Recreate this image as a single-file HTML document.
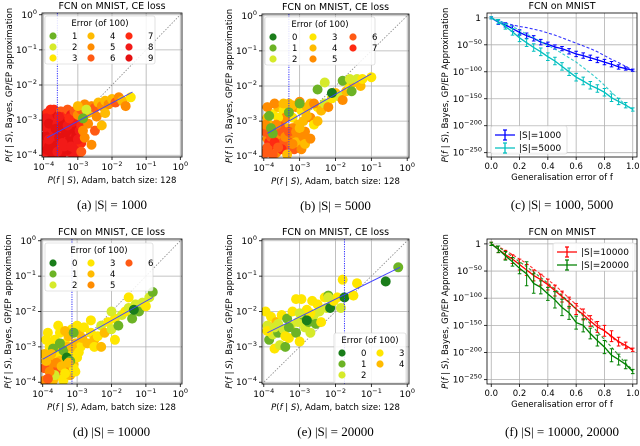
<!DOCTYPE html>
<html><head><meta charset="utf-8"><style>
html,body{margin:0;padding:0;background:#fff;}
svg{display:block;font-family:"DejaVu Sans","Liberation Sans",sans-serif;}
.cap{font-family:"Liberation Serif","DejaVu Serif",serif;font-size:13px;}
</style></head><body>
<svg id="fig" width="640" height="446" viewBox="0 0 640 446" xmlns="http://www.w3.org/2000/svg"></svg>
<script>
// ---------- data ----------
const errColors = ['#1a7d1a','#6cb325','#d6ea2a','#ffe600','#ffbb00','#ff8c00','#ff5a14','#ff2a12','#f21a18','#e51010'];
const decadeTicks = [-4,-3,-2,-1,0];
// scatter points: [log10 Adam, log10 Bayes, error]
const ptsA = [[-3.95,-3.9,8],[-3.9,-3.6,9],[-3.85,-3.3,7],[-3.9,-3.05,9],[-3.8,-3.95,8],[-3.75,-3.5,7],[-3.7,-3.15,9],[-3.65,-3.8,8],[-3.6,-3.4,9],[-3.55,-3.0,7],[-3.5,-3.6,8],[-3.45,-3.95,9],[-3.4,-3.25,8],[-3.35,-3.7,7],[-3.3,-3.45,9],[-3.25,-3.9,8],[-3.2,-3.1,7],[-3.15,-3.55,6],[-3.1,-3.3,8],[-3.05,-3.8,7],[-3.0,-3.15,6],[-2.95,-3.5,7],[-3.95,-3.45,9],[-3.9,-2.8,7],[-3.8,-2.9,8],[-3.7,-2.7,7],[-3.6,-2.85,9],[-3.5,-2.75,6],[-3.4,-2.9,7],[-3.3,-2.7,6],[-3.2,-2.85,8],[-3.7,-3.95,9],[-3.55,-3.75,8],[-3.45,-3.4,7],[-3.35,-3.05,9],[-3.8,-3.2,8],[-3.65,-3.55,9],[-3.25,-3.25,7],[-3.15,-3.95,8],[-3.05,-3.6,6],[-3.95,-3.7,8],[-3.85,-3.75,9],[-3.75,-3.25,8],[-3.6,-3.65,7],[-3.5,-3.2,9],[-3.4,-3.55,8],[-3.3,-3.85,9],[-3.2,-3.4,8],[-3.1,-3.1,7],[-3.95,-3.2,8],
[-3.95,-2.95,8],[-3.85,-3.1,9],[-3.75,-3.7,9],[-3.7,-3.45,8],[-3.6,-3.1,8],[-3.5,-3.9,9],[-3.45,-3.15,9],[-3.4,-3.75,8],[-3.35,-3.35,9],[-3.25,-3.6,9],[-3.2,-3.75,8],[-3.15,-3.25,9],[-3.1,-3.8,8],[-3.05,-3.45,9],[-3.0,-3.95,8],[-2.95,-3.3,8],[-2.9,-3.65,7],[-3.85,-3.55,8],[-3.75,-3.95,9],[-3.65,-3.25,9],[-3.55,-3.5,9],[-3.45,-3.65,8],[-3.3,-3.15,8],[-3.15,-3.05,8],[-3.0,-3.55,8],[-3.9,-3.85,9],[-3.8,-2.7,7],[-3.55,-2.9,8],[-3.25,-2.95,7],[-3.1,-2.75,6],[-2.9,-3.15,7],[-3.6,-3.9,8],
[-3.0,-2.85,5],[-2.9,-2.7,6],[-2.8,-2.55,5],[-2.7,-2.8,4],[-2.6,-2.6,5],[-2.5,-2.65,6],[-2.4,-2.5,4],[-2.3,-2.6,5],[-2.2,-2.45,4],[-2.1,-2.55,5],[-2.0,-2.4,4],[-1.9,-2.5,6],[-1.8,-2.35,5],[-1.7,-2.45,4],[-1.6,-2.6,5],[-1.45,-2.35,3],[-2.7,-3.1,5],[-2.5,-3.3,6],[-2.3,-3.15,4],[-2.8,-3.5,5],[-2.6,-3.7,5],[-2.9,-3.9,6],[-2.45,-2.9,5],[-2.2,-2.8,4],[-2.85,-3.3,5],[-3.0,-2.6,4],[-2.75,-2.7,2],[-2.85,-2.95,1]];
const ptsB = [[-3.95,-3.9,6],[-3.9,-3.5,5],[-3.85,-3.1,4],[-3.8,-3.7,7],[-3.75,-2.8,3],[-3.7,-3.3,6],[-3.65,-3.9,5],[-3.6,-2.6,4],[-3.55,-3.5,6],[-3.5,-3.0,5],[-3.45,-2.7,3],[-3.4,-3.7,6],[-3.35,-3.2,4],[-3.3,-2.5,4],[-3.25,-3.4,5],[-3.2,-2.9,3],[-3.15,-3.8,6],[-3.1,-2.6,5],[-3.05,-3.1,4],[-3.0,-3.5,5],[-2.95,-2.7,3],[-2.9,-3.0,4],[-2.85,-3.3,5],[-2.8,-2.6,4],[-2.7,-2.9,5],[-2.6,-3.1,3],[-3.9,-2.9,4],[-3.8,-3.3,6],[-3.7,-2.5,5],[-3.6,-3.1,6],[-3.5,-3.8,7],[-3.4,-2.9,5],[-3.3,-3.6,6],[-3.2,-3.2,5],[-3.95,-3.3,6],[-3.85,-3.6,7],[-3.75,-3.95,6],[-3.65,-3.4,5],[-3.45,-3.3,6],[-3.35,-3.95,4],[-3.1,-3.6,4],[-2.95,-3.8,5],[-3.6,-2.9,3],[-3.2,-2.55,4],[-3.9,-2.6,5],[-3.55,-3.15,6],
[-3.9,-3.75,6],[-3.8,-3.45,6],[-3.7,-3.6,7],[-3.6,-3.75,6],[-3.5,-3.3,6],[-3.4,-3.45,5],[-3.3,-3.3,6],[-3.2,-3.65,5],[-3.1,-3.3,5],[-3.0,-3.2,4],[-2.9,-3.45,5],[-2.8,-2.85,4],[-3.95,-3.1,5],[-3.65,-3.1,5],[-3.45,-2.5,4],[-3.0,-2.45,5],[-2.7,-2.5,4],[-2.85,-3.65,4],
[-3.8,-3.2,1],[-3.75,-3.35,1],[-3.3,-2.75,1],[-3.0,-2.5,1],[-3.85,-2.85,1],[-2.5,-2.6,3],[-2.4,-2.7,4],[-2.3,-2.5,2],[-2.2,-2.6,5],[-2.1,-2.35,3],[-2.0,-2.2,4],[-1.9,-2.3,2],[-1.8,-2.4,5],[-1.7,-2.15,4],[-1.6,-2.0,3],[-1.5,-1.9,4],[-1.4,-1.8,2],[-2.5,-2.1,1],[-2.1,-2.2,0],[-1.8,-1.85,1],[-1.6,-1.8,2],[-1.3,-2.0,4],[-1.25,-1.8,3],[-1.0,-1.75,3],[-2.3,-1.9,2],[-1.55,-2.15,1],[-2.6,-2.5,5],[-2.7,-3.5,5],[-2.5,-3.0,4]];
const ptsD = [[-3.95,-3.95,5],[-3.9,-3.6,6],[-3.85,-3.3,4],[-3.8,-3.0,3],[-3.75,-3.8,3],[-3.7,-3.4,4],[-3.65,-2.8,3],[-3.6,-3.6,6],[-3.55,-3.1,4],[-3.5,-2.6,3],[-3.45,-3.85,3],[-3.4,-3.3,4],[-3.35,-2.9,3],[-3.3,-3.6,5],[-3.25,-2.7,4],[-3.2,-3.2,3],[-3.15,-2.5,3],[-3.1,-3.5,4],[-3.05,-2.9,4],[-3.0,-3.3,3],[-2.95,-2.6,4],[-2.9,-3.0,3],[-2.85,-2.75,4],[-2.8,-2.45,3],[-2.7,-2.9,4],[-2.6,-2.6,3],[-2.5,-2.8,4],[-3.9,-2.8,3],[-3.8,-3.5,5],[-3.7,-3.95,4],[-3.6,-3.2,3],[-3.5,-3.4,4],[-3.4,-3.95,3],[-3.3,-3.0,4],[-3.2,-3.8,4],[-3.1,-3.6,3],[-3.95,-3.2,4],[-3.85,-2.6,3],[-3.55,-2.4,3],[-3.35,-2.55,4],[-3.0,-2.4,3],[-3.95,-3.6,6],[-3.6,-3.7,6],[-3.7,-3.05,1],[-3.5,-2.9,1],[-3.4,-3.1,1],[-3.3,-3.3,0],[-3.2,-3.4,1],[-3.1,-2.6,1],[-3.65,-3.8,2],[-3.05,-3.7,3],
[-3.9,-3.4,4],[-3.8,-3.7,5],[-3.75,-3.2,4],[-3.6,-3.45,5],[-3.45,-3.55,4],[-3.35,-3.75,3],[-3.25,-3.45,4],[-3.15,-3.0,4],[-2.95,-3.15,3],[-3.85,-3.9,6],
[-2.4,-2.7,3],[-2.3,-2.4,2],[-2.2,-2.6,4],[-2.1,-2.3,3],[-2.0,-2.5,2],[-1.9,-2.2,3],[-1.8,-2.4,1],[-1.7,-2.1,2],[-1.6,-2.0,3],[-1.5,-1.9,2],[-1.4,-2.2,1],[-1.3,-1.8,2],[-1.2,-2.0,1],[-1.1,-1.75,2],[-1.0,-1.85,3],[-0.9,-1.6,2],[-0.8,-1.45,1],[-1.35,-1.95,0],[-1.5,-1.6,3],[-2.0,-2.0,2],[-2.6,-2.25,3],[-2.5,-3.0,3],[-2.3,-3.0,4],[-1.9,-2.8,3]];
const ptsE = [[-3.95,-2.0,3],[-3.9,-2.4,2],[-3.85,-2.8,1],[-3.8,-2.15,3],[-3.75,-2.65,2],[-3.7,-3.05,3],[-3.65,-2.3,4],[-3.6,-2.6,1],[-3.55,-2.95,2],[-3.5,-2.1,3],[-3.45,-2.5,2],[-3.4,-3.0,1],[-3.35,-2.2,1],[-3.3,-2.75,3],[-3.25,-2.4,2],[-3.2,-2.0,3],[-3.1,-2.6,1],[-3.05,-2.3,2],[-3.0,-2.85,3],[-2.95,-1.65,3],[-2.9,-2.1,1],[-2.85,-2.45,2],[-2.8,-1.95,3],[-2.75,-2.3,1],[-2.7,-2.6,2],[-2.65,-1.7,3],[-2.6,-2.1,2],[-2.55,-2.35,1],[-2.5,-1.8,3],[-2.45,-2.0,2],[-2.4,-2.3,3],[-2.3,-1.6,3],[-2.25,-1.9,2],[-2.2,-1.55,1],[-2.15,-1.9,0],[-2.05,-1.7,3],[-1.95,-1.6,3],[-1.85,-1.9,2],[-3.9,-2.55,3],[-3.7,-2.45,2],[-3.3,-2.45,1],[-3.0,-2.05,2],[-2.7,-2.05,3],[-3.4,-2.7,3],[-3.6,-2.35,2],[-3.1,-1.65,3],[-2.8,-2.25,0],
[-1.8,-1.1,3],[-1.75,-1.6,0],[-1.4,-1.2,3],[-1.5,-1.55,3],[-0.6,-1.15,0],[-0.25,-0.75,1],[-2.2,-1.6,2]];
// line charts: error grid and log10 probabilities
const errGrid = [0,0.05,0.1,0.15,0.2,0.25,0.3,0.35,0.4,0.45,0.5,0.55,0.6,0.65,0.7,0.75,0.8,0.85,0.9,0.95,1.0];
const s1000 = [0,-8,-13,-20,-27,-33,-38,-45,-49,-54,-57,-62,-67,-70,-74,-78,-82,-86,-91,-94,-97];
const s1000Err = [2,4,4,5,5,5,5,5,4,4,4,5,5,5,5,5,5,5,4,3,2];
const s1000Dash = [0,-5,-10,-13,-16,-18,-21,-24,-28,-32,-37,-42,-47,-52,-57,-63,-70,-77,-83,-90,-97];
const s5000 = [0,-7,-16,-26,-37,-46,-55,-63,-72,-80,-90,-100,-110,-117,-125,-131,-138,-148,-155,-162,-170];
const s5000Err = [2,4,5,6,7,7,7,7,7,7,7,7,7,7,7,7,7,7,6,5,3];
const s5000Dash = [0,-5,-10,-16,-23,-30,-37,-44,-51,-58,-66,-74,-82,-92,-102,-113,-125,-138,-150,-161,-170];
const s10000 = [0,-10,-20,-28,-38,-48,-58,-66,-75,-86,-97,-108,-120,-130,-142,-153,-160,-170,-180,-187,-195];
const s10000Err = [3,6,8,8,10,10,10,10,10,10,10,10,10,10,10,10,10,10,8,6,3];
const s10000Dash = [0,-5,-12,-20,-28,-36,-46,-56,-66,-76,-88,-100,-112,-124,-136,-148,-160,-172,-182,-190,-195];
const s20000 = [0,-10,-22,-33,-45,-55,-73,-80,-92,-103,-117,-127,-145,-150,-165,-178,-190,-205,-213,-222,-235];
const s20000Err = [3,6,8,8,10,22,18,12,12,15,15,12,12,12,10,10,12,12,10,8,4];
const s20000Dash = [0,-6,-14,-24,-33,-42,-52,-62,-72,-83,-95,-107,-120,-133,-147,-162,-176,-190,-205,-220,-232];
const lineYTicks = [0,-50,-100,-150,-200,-250];
const lineXTicks = [0,0.2,0.4,0.6,0.8,1.0];

// ---------- helpers ----------
const NS='http://www.w3.org/2000/svg';
const svg=document.getElementById('fig');
function el(tag,attrs,parent){const e=document.createElementNS(NS,tag);for(const k in attrs)e.setAttribute(k,attrs[k]);(parent||svg).appendChild(e);return e;}
function txt(x,y,s,size,anchor,parent,extra){const t=el('text',Object.assign({x:x,y:y,'font-size':size,'text-anchor':anchor||'middle',fill:'#000'},extra||{}),parent);t.textContent=s;return t;}
function powLabel(x,y,base,exp,g,anchor){const t=el('text',{x:x,y:y,'font-size':9,'text-anchor':anchor||'middle',fill:'#000'},g);
  const a=el('tspan',{},t);a.textContent=base;
  if(exp!==null){const b=el('tspan',{dy:-4,'font-size':6.5},t);b.textContent=exp;}
  return t;}

function frame(g,L,T,R,B){el('rect',{x:L,y:T,width:R-L,height:B-T,fill:'none',stroke:'#000','stroke-width':0.8},g);}

function scatterPanel(id,L,T,R,B,pts,fit,vline,legendItems,legendPos,caption){
  const g=el('g',{});
  
  
  const xmin=-4.05,xmax=0.05,ymin=-4.05,ymax=0.05;
  const sx=v=>L+(v-xmin)/(xmax-xmin)*(R-L);
  const sy=v=>B-(v-ymin)/(ymax-ymin)*(B-T);
  const clip=el('clipPath',{id:'clip-'+id},g);el('rect',{x:L,y:T,width:R-L,height:B-T},clip);
  decadeTicks.forEach(d=>{
    const gl=el('line',{x1:sx(d),x2:sx(d),y1:T,y2:B,stroke:'#b0b0b0','stroke-width':0.8},g);
    
    const gl2=el('line',{x1:L,x2:R,y1:sy(d),y2:sy(d),stroke:'#b0b0b0','stroke-width':0.8},g);
    
    el('line',{x1:sx(d),x2:sx(d),y1:B,y2:B+3,stroke:'#000','stroke-width':0.8},g);
    el('line',{x1:L-3,x2:L,y1:sy(d),y2:sy(d),stroke:'#000','stroke-width':0.8},g);
    const xl=powLabel(sx(d),B+13,'10',String(d).replace('-','\u2212'),g,'middle');
    
    const yl=powLabel(L-5,sy(d)+3,'10',String(d).replace('-','\u2212'),g,'end');
    
  });
  const pg=el('g',{'clip-path':'url(#clip-'+id+')'},g);
  const diag=el('line',{x1:sx(-4.05),y1:sy(-4.05),x2:sx(0.05),y2:sy(0.05),stroke:'#888','stroke-width':0.8,'stroke-dasharray':'1.5,1.5'},pg);
  
  pts.forEach(p=>{
    const c=el('circle',{cx:sx(p[0]),cy:sy(p[1]),r:5,fill:errColors[p[2]]},pg);
    
    
  });
  const vl=el('line',{x1:sx(vline),x2:sx(vline),y1:T,y2:B,stroke:'#3030ff','stroke-width':1,'stroke-dasharray':'1.2,1.2'},pg);
  
  const fl=el('line',{x1:sx(fit[0]),y1:sy(fit[1]),x2:sx(fit[2]),y2:sy(fit[3]),stroke:'#4040ff','stroke-width':0.9},pg);
  
  frame(g,L,T,R,B);
  const lg=el('g',{},g);
  
  
  const [lx,ly,lw,lh,cols,colW]=legendPos;
  el('rect',{x:lx,y:ly,width:lw,height:lh,rx:2,fill:'#fff','fill-opacity':0.85,stroke:'#ccc','stroke-width':0.6},lg);
  txt(lx+lw/2,ly+10,'Error (of 100)',8.5,'middle',lg);
  const rows=Math.ceil(legendItems.length/cols);
  legendItems.forEach((e,i)=>{
    const c=Math.floor(i/rows),r=i%rows;
    const ex=lx+8+c*colW, ey=ly+20+r*11;
    const d=el('circle',{cx:ex,cy:ey,r:3.6,fill:errColors[e]},lg);
    
    txt(ex+19,ey+3,String(e),8.5,'start',lg);
  });
  txt((L+R)/2,T-4,'FCN on MNIST, CE loss',9.5,'middle',g);
  const xt=txt((L+R)/2,B+26,'',8.5,'middle',g);
  xt.innerHTML='<tspan font-style="italic">P</tspan>(<tspan font-style="italic">f</tspan> | <tspan font-style="italic">S</tspan>), Adam, batch size: 128';
  
  const yt=txt(0,0,'',8.5,'middle',g,{transform:'translate('+(L-30)+','+((T+B)/2)+') rotate(-90)'});
  yt.innerHTML='<tspan font-style="italic">P</tspan>(<tspan font-style="italic">f</tspan> | <tspan font-style="italic">S</tspan>), Bayes, GP/EP approximation';
  
  const cp=txt((L+R)/2,B+52,caption,13,'middle',g,{'class':'cap'});
  
}

function linePanel(id,L,T,R,B,series,legendPos,caption){
  const g=el('g',{});
  
  
  const xmin=-0.03,xmax=1.03,ymin=-258,ymax=9;
  const sx=v=>L+(v-xmin)/(xmax-xmin)*(R-L);
  const sy=v=>B-(v-ymin)/(ymax-ymin)*(B-T);
  lineXTicks.forEach(d=>{
    const gl=el('line',{x1:sx(d),x2:sx(d),y1:T,y2:B,stroke:'#b0b0b0','stroke-width':0.8},g);
    
    el('line',{x1:sx(d),x2:sx(d),y1:B,y2:B+3,stroke:'#000','stroke-width':0.8},g);
    const t=txt(sx(d),B+12,d.toFixed(1),8.5,'middle',g);
    
  });
  lineYTicks.forEach(d=>{
    const gl=el('line',{x1:L,x2:R,y1:sy(d),y2:sy(d),stroke:'#b0b0b0','stroke-width':0.8},g);
    
    el('line',{x1:L-3,x2:L,y1:sy(d),y2:sy(d),stroke:'#000','stroke-width':0.8},g);
    const t=d===0?powLabel(L-6,sy(d)+3,'1',null,g,'end'):powLabel(L-5,sy(d)+3,'10',String(d).replace('-','\u2212'),g,'end');
    
  });
  series.forEach(s=>{
    const dp=errGrid.map((x,i)=>sx(x).toFixed(1)+','+sy(s.dash[i]).toFixed(1)).join(' ');
    const dl=el('polyline',{points:dp,fill:'none',stroke:s.color,'stroke-width':1.1,'stroke-dasharray':'3,2','stroke-opacity':0.8},g);
    
    const p=errGrid.map((x,i)=>sx(x).toFixed(1)+','+sy(s.vals[i]).toFixed(1)).join(' ');
    const pl=el('polyline',{points:p,fill:'none',stroke:s.color,'stroke-width':1.3},g);
    
    errGrid.forEach((x,i)=>{
      const y1=sy(s.vals[i]+s.err[i]),y2=sy(s.vals[i]-s.err[i]),xx=sx(x);
      const eb=el('path',{d:'M'+xx+','+y1+'V'+y2+'M'+(xx-1.8)+','+y1+'h3.6M'+(xx-1.8)+','+y2+'h3.6',stroke:s.color,'stroke-width':1,fill:'none'},g);
      
    });
  });
  frame(g,L,T,R,B);
  const lg=el('g',{},g);
  
  
  const [lx,ly,lw,lh]=legendPos;
  el('rect',{x:lx,y:ly,width:lw,height:lh,rx:2,fill:'#fff','fill-opacity':0.9,stroke:'#ccc','stroke-width':0.6},lg);
  series.forEach((s,i)=>{
    const yy=ly+9+i*13;
    el('path',{d:'M'+(lx+4)+','+yy+'h20M'+(lx+14)+','+(yy-5)+'v10M'+(lx+12)+','+(yy-5)+'h4M'+(lx+12)+','+(yy+5)+'h4',stroke:s.color,'stroke-width':1.3,fill:'none'},lg);
    const t=txt(lx+28,yy+3,'|S|='+s.name,9,'start',lg);
    
  });
  txt((L+R)/2,T-4,'FCN on MNIST',9.5,'middle',g);
  const xt=txt((L+R)/2,B+23,'Generalisation error of f',8.5,'middle',g);
  
  const yt=txt(0,0,'',8.5,'middle',g,{transform:'translate('+(L-39)+','+((T+B)/2)+') rotate(-90)'});
  yt.innerHTML='<tspan font-style="italic">P</tspan>(<tspan font-style="italic">f</tspan> | <tspan font-style="italic">S</tspan>), Bayes, GP/EP Approximation';
  
  const cp=txt((L+R)/2,B+52,caption,13,'middle',g,{'class':'cap'});
  
}

scatterPanel('panel-a',42,13,182,157,ptsA,[-3.9,-3.5,-1.4,-2.2],-3.6,[1,2,3,4,5,6,7,8,9],[45,16,110,48,3,38],'(a) |S| = 1000');
scatterPanel('panel-b',262,14,409,158,ptsB,[-3.9,-3.35,-1.0,-1.65],-3.3,[0,1,2,3,4,5,6,7],[265,17,110,48,3,40],'(b) |S| = 5000');
scatterPanel('panel-d',41,239,182,384,ptsD,[-4.0,-3.35,-0.8,-1.6],-3.15,[0,1,2,3,4,5,6],[45,243,108,48,3,38],'(d) |S| = 10000');
scatterPanel('panel-e',262,239,409,384,ptsE,[-3.9,-2.6,-0.2,-0.75],-1.75,[0,1,2,3,4],[334,333,72,50,2,38],'(e) |S| = 20000');
linePanel('panel-c',487,13,637,157,[
  {name:'1000',color:'#0000ff',vals:s1000,err:s1000Err,dash:s1000Dash},
  {name:'5000',color:'#00bfbf',vals:s5000,err:s5000Err,dash:s5000Dash}],[491,126,76,28],'(c) |S| = 1000, 5000');
linePanel('panel-f',487,239,637,384,[
  {name:'10000',color:'#ff0000',vals:s10000,err:s10000Err,dash:s10000Dash},
  {name:'20000',color:'#008000',vals:s20000,err:s20000Err,dash:s20000Dash}],[553,243,82,28],'(f) |S| = 10000, 20000');
</script>
</body></html>
